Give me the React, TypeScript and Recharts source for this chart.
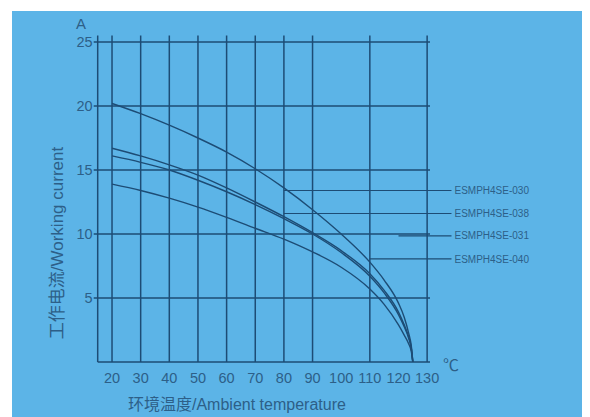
import { LineChart, Line, XAxis, YAxis, CartesianGrid, ReferenceLine } from 'recharts';

// ambient temperature (°C) sample points
const temps = [20, 30, 40, 50, 60, 70, 80, 90, 100, 110, 115, 120, 122, 123.5, 124.5, 125];

// working current (A) per model
const curveA = [20.2, 19.4, 18.5, 17.5, 16.4, 15.1, 13.6, 11.9, 10.0, 7.8, 6.4, 4.6, 3.5, 2.3, 1.2, 0];
const curveB = [16.7, 16.1, 15.4, 14.6, 13.6, 12.5, 11.35, 10.1, 8.7, 6.9, 5.6, 3.9, 2.9, 2.0, 1.05, 0];
const curveC = [16.1, 15.6, 15.0, 14.2, 13.3, 12.3, 11.2, 10.0, 8.55, 6.7, 5.4, 3.7, 2.75, 1.9, 1.0, 0];
const curveD = [13.9, 13.4, 12.8, 12.1, 11.3, 10.45, 9.6, 8.6, 7.4, 5.7, 4.5, 2.9, 2.1, 1.45, 0.8, 0];

const models = ['ESMPH4SE-030', 'ESMPH4SE-038', 'ESMPH4SE-031', 'ESMPH4SE-040'];
const leaderLevels = [13.4, 11.6, 9.85, 8.05];
const leaderStarts = [80, 80, 120, 110];

const xTicks = [20, 30, 40, 50, 60, 70, 80, 90, 100, 110, 120, 130];
const yTicks = [5, 10, 15, 20, 25];

const data = temps.map((t, i) => ({ t, a: curveA[i], b: curveB[i], c: curveC[i], d: curveD[i] }));

const ink = '#1d4c75';
const textCol = '#2d5f88';
const font = '"Liberation Sans", "Noto Sans CJK SC", sans-serif';

export default function App() {
  return (
    <div style={{ position: 'relative', width: 590, height: 417, marginLeft: -8, marginTop: -8, background: '#fff', fontFamily: font }}>
      <div style={{ position: 'absolute', left: 12, top: 11, width: 578, height: 406, background: '#5cb4e7' }}>
        <LineChart width={578} height={406} data={data} margin={{ top: 24.6, right: 160, bottom: 25, left: 55.7 }}>
          <CartesianGrid stroke={ink} strokeWidth={1.5} horizontalValues={yTicks} verticalValues={xTicks} />
          <XAxis
            dataKey="t"
            type="number"
            domain={[15, 131]}
            ticks={xTicks}
            height={30}
            axisLine={{ stroke: ink, strokeWidth: 1.5 }}
            tickLine={false}
            tickMargin={5}
            tick={{ fill: textCol, fontSize: 14.5, fontFamily: font }}
            allowDataOverflow
          />
          <YAxis
            type="number"
            domain={[0, 25.5]}
            ticks={yTicks}
            width={30}
            axisLine={{ stroke: ink, strokeWidth: 1.5 }}
            tickLine={{ stroke: ink, strokeWidth: 1.5 }}
            tickSize={4}
            tickMargin={1}
            tick={{ fill: textCol, fontSize: 14.5, fontFamily: font }}
            allowDataOverflow
          />
          {models.map((m, i) => (
            <ReferenceLine
              key={m}
              segment={[{ x: leaderStarts[i], y: leaderLevels[i] }, { x: 138.5, y: leaderLevels[i] }]}
              stroke={ink}
              strokeWidth={1.2}
              ifOverflow="visible"
              label={{ value: m, position: 'right', offset: 3, fill: textCol, fontSize: 10, fontFamily: font }}
            />
          ))}
          <Line type="monotone" dataKey="a" stroke={ink} strokeWidth={1.4} dot={false} isAnimationActive={false} />
          <Line type="monotone" dataKey="b" stroke={ink} strokeWidth={1.4} dot={false} isAnimationActive={false} />
          <Line type="monotone" dataKey="c" stroke={ink} strokeWidth={1.4} dot={false} isAnimationActive={false} />
          <Line type="monotone" dataKey="d" stroke={ink} strokeWidth={1.4} dot={false} isAnimationActive={false} />
        </LineChart>
      </div>
      <div style={{ position: 'absolute', left: 76, top: 15, fontSize: 15, color: textCol }}>A</div>
      <div style={{ position: 'absolute', left: 443, top: 352, fontSize: 16, color: textCol }}>℃</div>
      <div style={{ position: 'absolute', left: 128, top: 395, fontSize: 16, lineHeight: '20px', color: textCol, whiteSpace: 'nowrap' }}>
        环境温度/Ambient temperature
      </div>
      <div
        style={{
          position: 'absolute',
          left: 55,
          top: 243,
          fontSize: 17,
          color: textCol,
          whiteSpace: 'nowrap',
          transform: 'translate(-50%, -50%) rotate(-90deg)',
        }}
      >
        工作电流/Working current
      </div>
    </div>
  );
}
